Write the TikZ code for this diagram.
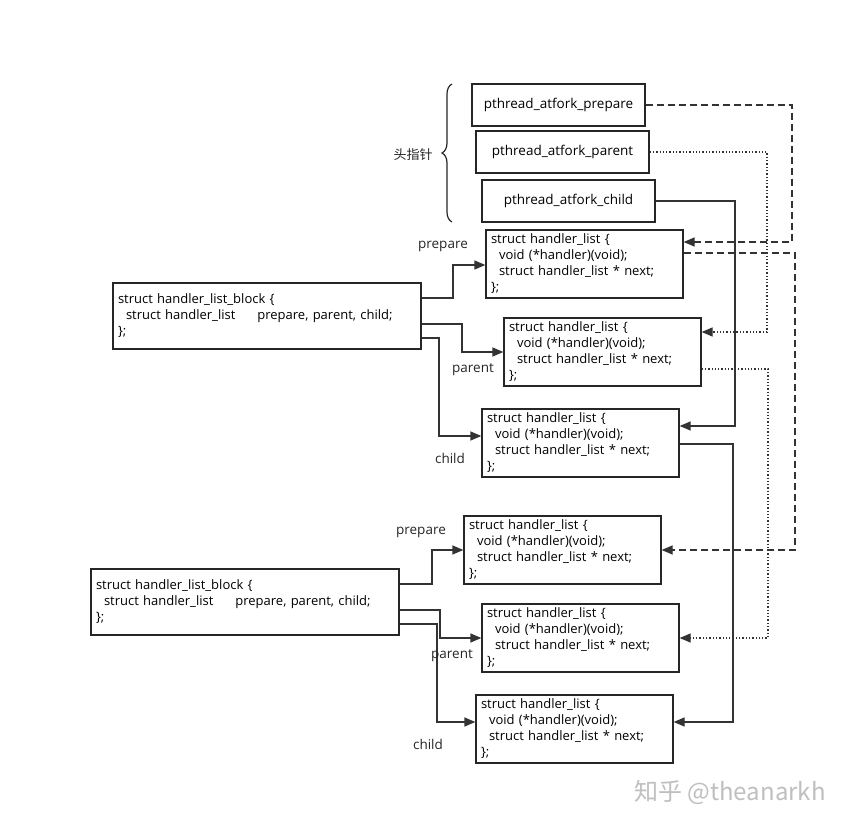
\documentclass[tikz,border=0pt]{standalone}
\usepackage{fontspec}
\setmainfont{Open Sans}
\newfontfamily\cjk{Noto Sans CJK SC}
\usetikzlibrary{arrows.meta,decorations.pathreplacing}
\begin{document}
\begin{tikzpicture}[x=1pt,y=-1pt,
  box/.style={draw=black!85,line width=1.3pt,inner sep=0pt,font=\fontsize{13}{16}\selectfont},
  hl/.style={box,minimum width=197pt,minimum height=68pt,align=left,text width=187pt},
  head/.style={box,minimum width=173pt,minimum height=42pt,font=\fontsize{13.5}{16}\selectfont},
  con/.style={draw=black!80,line width=1.3pt,-{Triangle[length=11pt,width=9pt]}},
  lbl/.style={font=\fontsize{13.5}{16}\selectfont,text=black!85}]
\useasboundingbox (0,0) rectangle (855,826);
\fill[white] (0,0) rectangle (855,826);
\def\hltext{struct handler\_list \{\\\hspace*{8pt}void (*handler)(void);\\\hspace*{8pt}struct handler\_list * next;\\\};}
\def\blktext{struct handler\_list\_block \{\\\hspace*{8pt}struct handler\_list\hspace*{22pt}prepare, parent, child;\\\};}
\node[head] (P) at (558.5,105) {pthread\_atfork\_prepare};
\node[head] (Pa) at (562.5,152) {pthread\_atfork\_parent};
\node[head] (C) at (568.5,201) {pthread\_atfork\_child};
\draw[line width=1.2pt,black!85,decorate,decoration={brace,amplitude=10pt,mirror,raise=0pt}] (452,84) -- (452,222);
\node[lbl,font=\cjk\fontsize{13}{16}\selectfont] (tz) at (413,155) {头指针};
\node[hl] (H1) at (584.5,264) {\hltext};
\node[hl] (H2) at (602.5,352) {\hltext};
\node[hl] (H3) at (580.5,443) {\hltext};
\node[hl] (H4) at (562.5,550) {\hltext};
\node[hl] (H5) at (580.5,638) {\hltext};
\node[hl] (H6) at (574.5,729) {\hltext};
\node[box,minimum width=308pt,minimum height=66pt,align=left,text width=298pt] (B1) at (267,316) {\blktext};
\node[box,minimum width=308pt,minimum height=66pt,align=left,text width=298pt] (B2) at (245,602) {\blktext};
% block connectors
\draw[con] (B1.east|-0,298) -| (453,265) -- (H1.west|-0,265);
\draw[con] (B1.east|-0,324) -| (462,352) -- (H2.west);
\draw[con] (B1.east|-0,338) -| (439,436) -- (H3.west|-0,436);
\draw[con] (B2.east|-0,584) -| (432,550) -- (H4.west);
\draw[con] (B2.east|-0,610) -| (440,638) -- (H5.west);
\draw[con] (B2.east|-0,624) -| (437,722) -- (H6.west|-0,722);
\node[lbl] (l1) at (443,246) {prepare};
\node[lbl] (l2) at (473,370) {parent};
\node[lbl] (l3) at (450,458) {child};
\node[lbl] (l4) at (421,532) {prepare};
\node[lbl] (l5) at (452,656) {parent};
\node[lbl] (l6) at (428,744) {child};
% list connectors
\draw[con,dash pattern=on 7pt off 4pt] (P.east) -| (792,242) -- (H1.east|-0,242);
\draw[con,dash pattern=on 7pt off 4pt] (H1.east|-0,253) -| (795,550) -- (H4.east);
\draw[con,dash pattern=on 1.3pt off 2pt] (Pa.east) -| (767,332) -- (H2.east|-0,332);
\draw[con,dash pattern=on 1.3pt off 2pt] (H2.east|-0,369) -| (768,638) -- (H5.east);
\draw[con] (C.east) -| (735,426) -- (H3.east|-0,426);
\draw[con] (H3.east|-0,444) -| (733,722) -- (H6.east|-0,722);
\node[text=black!25,font=\cjk\fontsize{24}{28}\selectfont] (wm) at (730,792) {知乎 @theanarkh};
\end{tikzpicture}
\end{document}
